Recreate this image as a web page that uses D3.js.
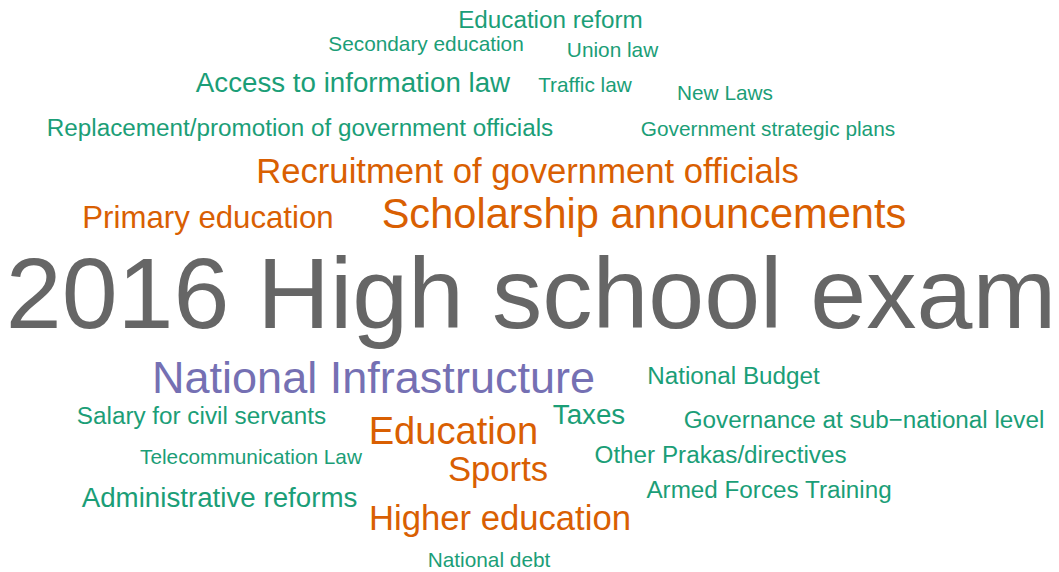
<!DOCTYPE html>
<html>
<head>
<meta charset="utf-8">
<script src="https://cdn.jsdelivr.net/npm/d3@7"></script>
<style>
  html, body { margin: 0; padding: 0; background: #ffffff; }
  svg { display: block; }
</style>
</head>
<body>
<script>
// ---- data ----
const words = [
  "Education reform", "Secondary education", "Union law", "Access to information law",
  "Traffic law", "New Laws", "Replacement/promotion of government officials",
  "Government strategic plans", "Recruitment of government officials", "Primary education",
  "Scholarship announcements", "2016 High school exam", "National Infrastructure",
  "National Budget", "Salary for civil servants", "Taxes", "Governance at sub\u2212national level",
  "Education", "Telecommunication Law", "Other Prakas/directives", "Sports",
  "Armed Forces Training", "Administrative reforms", "Higher education", "National debt"
];
const freqs = [2, 1, 1, 3, 1, 1, 2, 1, 5, 4, 7, 24, 8, 2, 2, 3, 2, 6, 1, 2, 5, 2, 3, 5, 1];

// word-cloud layout result (normalised placement: centre x, baseline y)
const layoutX = [0.5198, 0.4023, 0.5784, 0.3333, 0.5524, 0.6846, 0.2833, 0.7252, 0.4981, 0.1964,
                 0.6081, 0.5014, 0.3527, 0.6926, 0.1903, 0.5562, 0.8159, 0.4282, 0.2370, 0.6804,
                 0.4703, 0.7262, 0.2073, 0.4721, 0.4618];
const layoutY = [0.0490, 0.0895, 0.0998, 0.1605, 0.1605, 0.1748, 0.2378, 0.2378, 0.3196, 0.3983,
                 0.3990, 0.5740, 0.6862, 0.6705, 0.7412, 0.7404, 0.7483, 0.7762, 0.8110, 0.8101,
                 0.8410, 0.8705, 0.8864, 0.9274, 0.9920];

const palette = ["#1B9E77", "#D95F02", "#7570B3", "#666666"];
const freqBreaks = [4, 8, 9];

// ---- drawing ----
const W = 1059, H = 572;
const svg = d3.select("body").append("svg").attr("width", W).attr("height", H);

const xScale = d3.scaleLinear().domain([0, 1]).range([0, W]);
const yScale = d3.scaleLinear().domain([0, 1]).range([0, H]);
const sizeScale = d3.scaleLinear().domain([1, 24]).range([20.8, 100.5]);
const colorScale = d3.scaleThreshold().domain(freqBreaks).range(palette);

const data = words.map((w, i) => ({ text: w, freq: freqs[i], x: layoutX[i], y: layoutY[i] }));

svg.append("g")
  .selectAll("text")
  .data(data)
  .join("text")
  .attr("x", d => xScale(d.x))
  .attr("y", d => yScale(d.y))
  .attr("text-anchor", "middle")
  .attr("font-family", "'Liberation Sans', Arial, sans-serif")
  .attr("font-size", d => sizeScale(d.freq))
  .attr("fill", d => colorScale(d.freq))
  .text(d => d.text);
</script>
</body>
</html>
